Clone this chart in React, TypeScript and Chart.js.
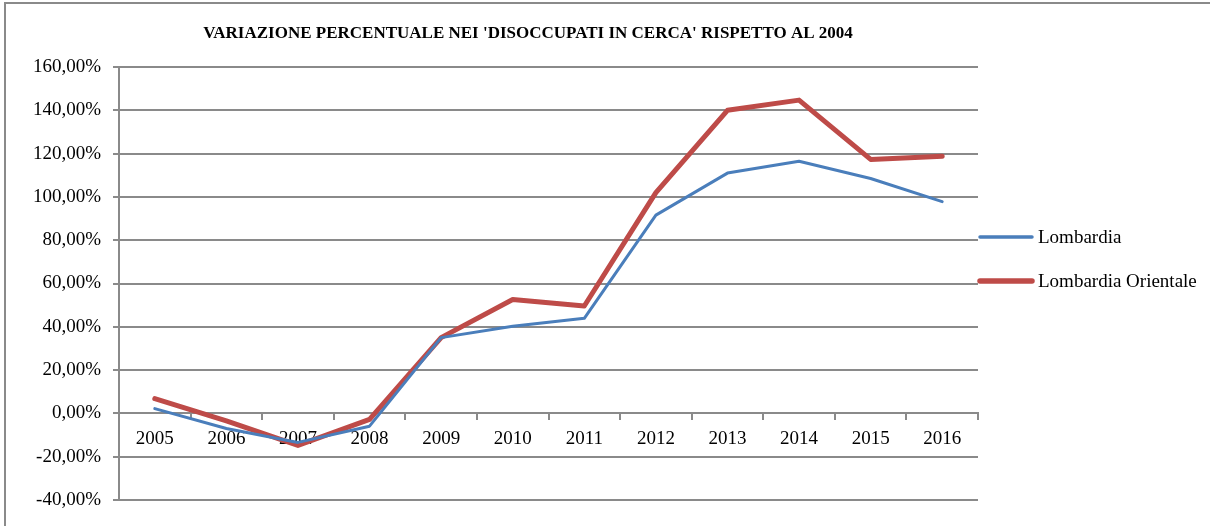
import React, { useEffect, useRef } from "react";
import { Chart, registerables } from "chart.js";

Chart.register(...registerables);

const TITLE = "VARIAZIONE PERCENTUALE NEI 'DISOCCUPATI IN CERCA' RISPETTO AL 2004";
const years = ["2005", "2006", "2007", "2008", "2009", "2010", "2011", "2012", "2013", "2014", "2015", "2016"];
const lombardia = [2.2, -7.0, -13.4, -5.9, 35.0, 40.3, 43.9, 91.6, 111.0, 116.5, 108.5, 97.8];
const lombardiaOrientale = [6.8, -3.5, -14.8, -2.8, 35.0, 52.6, 49.6, 102.0, 140.0, 144.7, 117.3, 118.8];
const seriesNames = ["Lombardia", "Lombardia Orientale"];
const yMin = -40;
const yMax = 160;
const yStep = 20;

const BLUE = "#4a7ebb";
const RED = "#be4b48";
const GRID = "#8a8a8a";
const FONT = "'Liberation Serif', 'Times New Roman', serif";

const decorPlugin = {
  id: "decor",
  beforeDraw(chart: any) {
    const ctx = chart.ctx;
    ctx.save();
    ctx.fillStyle = "#ffffff";
    ctx.fillRect(0, 0, chart.width, chart.height);
    ctx.strokeStyle = GRID;
    ctx.lineWidth = 2;
    ctx.strokeRect(5, 3, 1400, 700);
    ctx.restore();
  },
  afterDraw(chart: any) {
    const ctx = chart.ctx;
    const area = chart.chartArea;
    ctx.save();
    // title
    ctx.font = `bold 17px ${FONT}`;
    ctx.fillStyle = "#000";
    ctx.textAlign = "center";
    ctx.textBaseline = "middle";
    ctx.fillText(TITLE, 528, 34);
    // legend
    const items = [
      { name: seriesNames[0], color: BLUE, width: 3.5, y: 237 },
      { name: seriesNames[1], color: RED, width: 5.5, y: 281 },
    ];
    ctx.font = `19px ${FONT}`;
    ctx.textAlign = "left";
    for (const it of items) {
      ctx.strokeStyle = it.color;
      ctx.lineWidth = it.width;
      ctx.lineCap = "round";
      ctx.beginPath();
      ctx.moveTo(area.right + 2, it.y);
      ctx.lineTo(area.right + 54, it.y);
      ctx.stroke();
      ctx.fillStyle = "#000";
      ctx.fillText(it.name, area.right + 60, it.y + 1);
    }
    ctx.restore();
  },
};

export default function App() {
  const ref = useRef<HTMLCanvasElement | null>(null);
  useEffect(() => {
    if (!ref.current) return;
    const chart = new Chart(ref.current, {
      type: "line",
      data: {
        labels: years,
        datasets: [
          {
            label: seriesNames[0],
            data: lombardia,
            borderColor: BLUE,
            backgroundColor: BLUE,
            borderWidth: 3,
            pointRadius: 0,
            tension: 0,
            borderCapStyle: "round",
            borderJoinStyle: "round",
          },
          {
            label: seriesNames[1],
            data: lombardiaOrientale,
            borderColor: RED,
            backgroundColor: RED,
            borderWidth: 5,
            pointRadius: 0,
            tension: 0,
            borderCapStyle: "round",
            borderJoinStyle: "round",
          },
        ],
      },
      options: {
        responsive: false,
        animation: false,
        events: [],
        layout: { padding: { top: 67, right: 232, bottom: 26, left: 0 } },
        plugins: {
          legend: { display: false },
          title: { display: false },
          tooltip: { enabled: false },
        },
        scales: {
          x: {
            type: "category",
            position: { y: 0 } as any,
            offset: true,
            grid: {
              offset: true,
              drawOnChartArea: false,
              drawTicks: true,
              tickLength: 6,
              color: GRID,
              lineWidth: 2,
            },
            border: { display: true, color: GRID, width: 2 },
            ticks: {
              color: "#000",
              font: { family: FONT, size: 19 },
              padding: 8,
              maxRotation: 0,
              autoSkip: false,
            },
          },
          y: {
            min: yMin,
            max: yMax,
            afterFit(scale: any) {
              scale.width = 119;
            },
            ticks: {
              stepSize: yStep,
              color: "#000",
              font: { family: FONT, size: 19 },
              padding: 12,
              callback: (v: any) => Number(v).toFixed(2).replace(".", ",") + "%",
            },
            grid: {
              color: GRID,
              lineWidth: 2,
              tickLength: 6,
              drawTicks: true,
            },
            border: { display: true, color: GRID, width: 2 },
          },
        },
      },
      plugins: [decorPlugin],
    });
    return () => chart.destroy();
  }, []);
  return (
    <div style={{ position: "fixed", left: 0, top: 0, width: 1210, height: 526, background: "#fff" }}>
      <canvas ref={ref} width={1210} height={526} style={{ width: 1210, height: 526, display: "block" }} />
    </div>
  );
}
